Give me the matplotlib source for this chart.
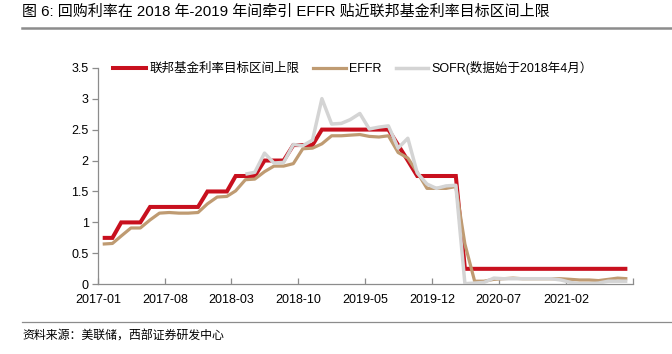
import matplotlib
matplotlib.use("Agg")
import matplotlib.pyplot as plt
import pandas as pd
import numpy as np
from matplotlib.lines import Line2D

# ---------------- data ----------------
months = pd.date_range("2017-01-01", periods=56, freq="MS") + pd.Timedelta(days=14)

fed_upper = [0.75, 0.75, 1.00, 1.00, 1.00, 1.25, 1.25, 1.25, 1.25, 1.25, 1.25, 1.50,
             1.50, 1.50, 1.75, 1.75, 1.75, 2.00, 2.00, 2.00, 2.25, 2.25, 2.25, 2.50,
             2.50, 2.50, 2.50, 2.50, 2.50, 2.50, 2.50, 2.25, 2.00, 1.75, 1.75, 1.75,
             1.75, 1.75, 0.25, 0.25, 0.25, 0.25, 0.25, 0.25, 0.25, 0.25, 0.25, 0.25,
             0.25, 0.25, 0.25, 0.25, 0.25, 0.25, 0.25, 0.25]

effr = [0.65, 0.66, 0.78, 0.91, 0.91, 1.04, 1.15, 1.16, 1.15, 1.15, 1.16, 1.30,
        1.41, 1.42, 1.51, 1.69, 1.70, 1.82, 1.91, 1.91, 1.95, 2.19, 2.20, 2.27,
        2.40, 2.40, 2.41, 2.42, 2.39, 2.38, 2.40, 2.13, 2.04, 1.81, 1.55, 1.55,
        1.55, 1.58, 0.65, 0.05, 0.05, 0.08, 0.09, 0.10, 0.09, 0.09, 0.09, 0.09,
        0.09, 0.08, 0.07, 0.07, 0.06, 0.08, 0.10, 0.09]

sofr = [np.nan] * 15 + [
        1.78, 1.81, 2.12, 1.96, 1.97, 2.26, 2.24, 2.33, 3.00,
        2.59, 2.60, 2.66, 2.76, 2.51, 2.54, 2.56, 2.20, 2.36, 1.80, 1.62, 1.55,
        1.59, 1.60, 0.01, 0.02, 0.03, 0.10, 0.09, 0.09, 0.09, 0.09, 0.09, 0.09,
        0.07, 0.03, 0.01, 0.01, 0.02, 0.05, 0.05, 0.05]

series_names = ["联邦基金利率目标区间上限", "EFFR", "SOFR(数据始于2018年4月）"]
tick_labels = ["2017-01", "2017-08", "2018-03", "2018-10", "2019-05", "2019-12",
               "2020-07", "2021-02", ""]
y_ticks = [0, 0.5, 1, 1.5, 2, 2.5, 3, 3.5]

title = "图 6: 回购利率在 2018 年-2019 年间牵引 EFFR 贴近联邦基金利率目标区间上限"
source = "资料来源：美联储，西部证券研发中心"

# ---------------- style ----------------
FAM = ["Liberation Sans", "Noto Sans CJK SC", "DejaVu Sans"]
plt.rcParams["font.family"] = FAM

W, H = 672, 354
fig = plt.figure(figsize=(W / 100, H / 100), dpi=100)
ax = fig.add_axes([98.3 / W, 1 - 284.3 / H, (632.7 - 98.3) / W, (284.3 - 67.7) / H])

red = "#C8101E"
tan = "#BF9B72"
grey = "#D4D4D4"

ax.plot(months, fed_upper, color=red, lw=2.9, solid_capstyle="butt", solid_joinstyle="miter", zorder=3)
ax.plot(months, effr, color=tan, lw=2.3, solid_capstyle="butt", zorder=4)
ax.plot(months, sofr, color=grey, lw=2.5, solid_capstyle="butt", zorder=5)

tick_dates = [pd.Timestamp(s + "-01") for s in tick_labels[:-1]] + [pd.Timestamp("2021-09-01")]
ax.set_xlim(pd.Timestamp("2017-01-01"), pd.Timestamp("2021-09-01"))
ax.set_ylim(0, 3.5)
ax.set_xticks(tick_dates)
ax.set_xticklabels(tick_labels)
ax.set_yticks(y_ticks)
ax.set_yticklabels([f"{v:g}" for v in y_ticks])

for s in ["top", "right"]:
    ax.spines[s].set_visible(False)
for s in ["left", "bottom"]:
    ax.spines[s].set_color("#8C8C8C")
    ax.spines[s].set_linewidth(0.9)

ax.tick_params(axis="x", direction="in", length=4, color="#8C8C8C", width=0.9,
               labelsize=9, pad=7, labelcolor="black")
ax.tick_params(axis="y", direction="out", length=4, color="#8C8C8C", width=0.9,
               labelsize=9, pad=3, labelcolor="black")

handles = [Line2D([], [], color=red, lw=2.9),
           Line2D([], [], color=tan, lw=2.3),
           Line2D([], [], color=grey, lw=2.5)]
leg = fig.legend(handles, series_names, loc="center left",
                 bbox_to_anchor=(113 / W, 1 - 68 / H), ncol=3, frameon=False,
                 fontsize=9, handlelength=2.6, handletextpad=0.3,
                 columnspacing=1.1, borderpad=0, borderaxespad=0)

fig.text(22 / W, 1 - 12 / H, title, fontsize=10.8, ha="left", va="center", color="black")
fig.add_artist(Line2D([22 / W, 1.0], [1 - 28 / H, 1 - 28 / H], color="#8C8C8C", lw=1.8))
fig.add_artist(Line2D([22 / W, 1.0], [1 - 322 / H, 1 - 322 / H], color="#8C8C8C", lw=0.9))
fig.text(22 / W, 1 - 337 / H, source, fontsize=8.6, ha="left", va="center", color="black")

fig.savefig("out.png", dpi=100)
